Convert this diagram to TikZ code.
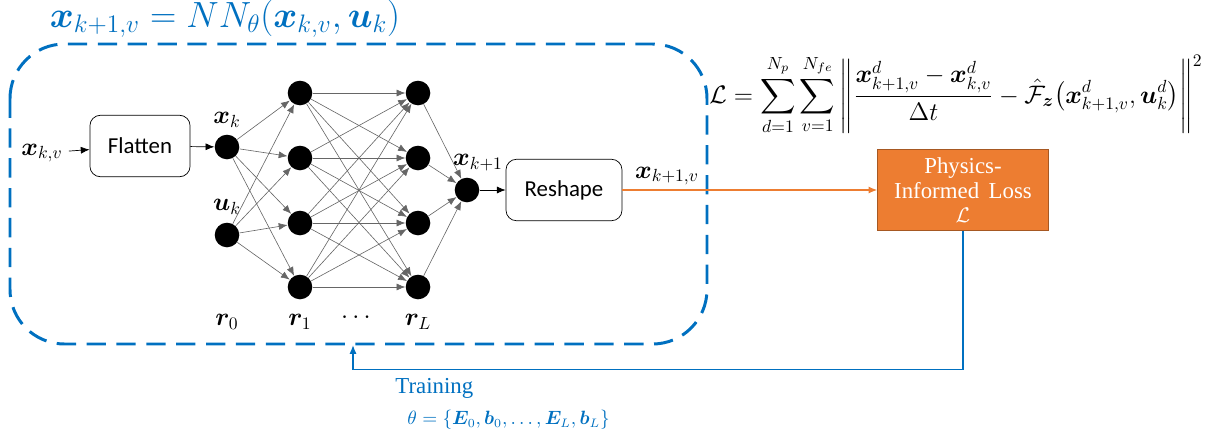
\documentclass[tikz,border=0pt]{standalone}
\usepackage{amsmath}
\usepackage{amssymb}
\usepackage{bm}
\usepackage{fontspec}
\newfontfamily\calfont{Carlito}
\newfontfamily\timesfont{Liberation Serif}
\usetikzlibrary{arrows.meta}
\definecolor{frameblue}{RGB}{0,112,192}
\definecolor{lossorange}{RGB}{237,125,49}
\tikzset{
  neuron/.style={circle, fill=black, minimum size=14pt, inner sep=0pt},
  opbox/.style={draw, rounded corners=6pt, minimum width=57pt, minimum height=35pt, font=\calfont\fontsize{13}{15}\selectfont},
  link/.style={gray!80!black, line width=0.35pt, -{Latex[length=5pt,width=4pt]}},
  lbl/.style={font=\fontsize{14}{16}\selectfont}
}
\begin{document}
\begin{tikzpicture}[x=0.02cm, y=-0.02cm]
  \useasboundingbox (0,0) rectangle (1218,440);

  % Dashed frame around the network
  \draw[frameblue, line width=1.7pt, dash pattern=on 11pt off 6pt, rounded corners=31pt]
    (10,44) rectangle (707,344);
  \node[frameblue, font=\fontsize{19.5}{23}\selectfont] (title) at (225,19)
    {$\bm{x}_{k+1,v} = NN_\theta(\bm{x}_{k,v},\bm{u}_k)$};

  % Input and flatten
  \node[lbl] (xin) at (42,153) {$\bm{x}_{k,v}$};
  \node[opbox] (flat) at (140,146) {Flatten};

  % Input layer r_0
  \node[neuron] (i1) at (227,147) {};
  \node[neuron] (i2) at (227,235) {};
  \node[lbl] at (227,120) {$\bm{x}_k$};
  \node[lbl] at (227,207) {$\bm{u}_k$};

  % Hidden layers r_1 and r_L
  \foreach \n/\y in {1/93, 2/158, 3/223, 4/287} {
    \node[neuron] (a\n) at (300,\y) {};
    \node[neuron] (b\n) at (418,\y) {};
  }

  % Output node
  \node[neuron] (o) at (467,190) {};
  \node[lbl] at (478,163) {$\bm{x}_{k+1}$};

  % Layer labels
  \node[lbl] at (227,322) {$\bm{r}_0$};
  \node[lbl] at (300,322) {$\bm{r}_1$};
  \node[lbl] at (358,318) {$\cdots$};
  \node[lbl] at (418,322) {$\bm{r}_L$};

  % Connections
  \foreach \i in {1,2} {
    \foreach \j in {1,...,4} {
      \draw[link] (i\i) -- (a\j);
    }
  }
  \foreach \i in {1,...,4} {
    \foreach \j in {1,...,4} {
      \draw[link] (a\i) -- (b\j);
    }
    \draw[link] (b\i) -- (o);
  }

  \draw[-{Latex[length=5pt,width=4pt]}] (xin) -- (flat);
  \draw[-{Latex[length=5pt,width=4pt]}] (flat) -- (i1);

  % Reshape and loss
  \node[opbox, minimum width=66pt] (resh) at (564,190) {Reshape};
  \draw[-{Latex[length=5pt,width=4pt]}] (o) -- (resh);

  \node[draw=lossorange!70!black, fill=lossorange, text=white, minimum width=97pt, minimum height=46pt,
        align=center, inner sep=2pt, font=\timesfont\fontsize{13}{14.5}\selectfont] (loss) at (963,190)
    {Physics-\\Informed\, Loss\\[-1pt]$\mathcal{L}$};
  \draw[lossorange, line width=0.9pt, -{Latex[length=5pt,width=4pt]}] (resh) -- (loss);
  \node[lbl] at (667,176) {$\bm{x}_{k+1,v}$};

  % Loss formula
  \node[font=\fontsize{14}{17}\selectfont] (eq) at (956,95)
    {$\displaystyle \mathcal{L} = \sum_{d=1}^{N_p}\sum_{v=1}^{N_{fe}}
      \left\| \frac{\bm{x}^d_{k+1,v}-\bm{x}^d_{k,v}}{\Delta t}
      - \hat{\mathcal{F}}_{\bm{z}}\!\left(\bm{x}^d_{k+1,v},\bm{u}^d_k\right)\right\|^2$};

  % Training feedback
  \coordinate (fb) at (353,345);
  \draw[frameblue, line width=0.8pt, -{Latex[length=5pt,width=4pt]}]
    (loss.south) -- ++(0,139) -| (fb);
  \node[frameblue, anchor=west, inner sep=0pt, font=\timesfont\fontsize{13}{16}\selectfont] (train) at (395,388) {Training};
  \node[frameblue, anchor=west, inner sep=0pt, font=\fontsize{10.5}{14}\selectfont] (theta) at (407,420)
    {$\theta = \{\bm{E}_0,\bm{b}_0,\dots,\bm{E}_L,\bm{b}_L\}$};
\end{tikzpicture}
\end{document}
